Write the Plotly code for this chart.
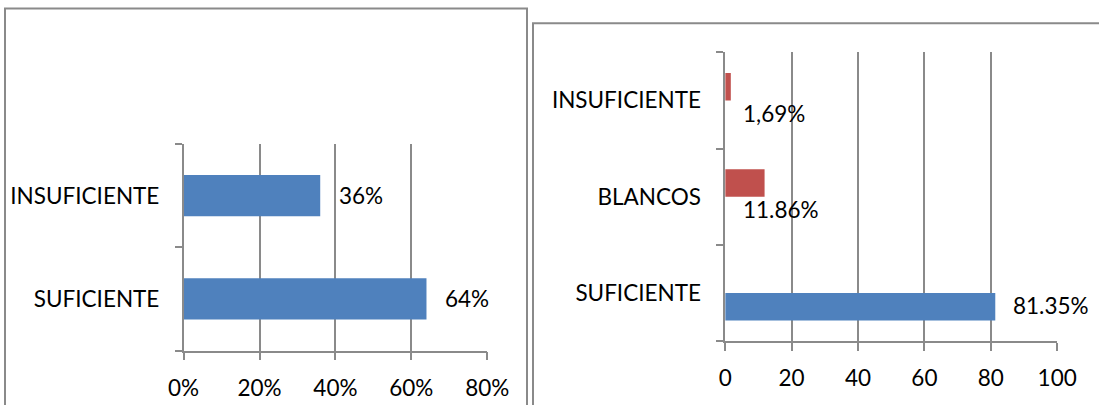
import plotly.graph_objects as go

# Left chart: two categories, percentages
cat_izq = ["SUFICIENTE", "INSUFICIENTE"]
val_izq = [64, 36]
ticks_izq = [0, 20, 40, 60, 80]

# Right chart: three categories, two series (blue / red)
cat_der = ["SUFICIENTE", "BLANCOS", "INSUFICIENTE"]
serie_azul = [81.35, 0, 0]
serie_roja = [0, 11.86, 1.69]
sep_decimal = [".", ".", ","]
ticks_der = [0, 20, 40, 60, 80, 100]

AZUL = "#4F81BD"
ROJO = "#C0504D"
GRIS = "#8a8a8a"
FUENTE = dict(family="Lato", size=22.5, color="black")

W, H = 1099, 405


def px_x(p):
    return p / W


def px_y(p):
    return 1 - p / H


fig = go.Figure()

fig.add_trace(go.Bar(
    orientation="h", y=cat_izq, x=val_izq, width=0.4,
    marker=dict(color=AZUL, line=dict(width=0)),
    xaxis="x", yaxis="y", hoverinfo="skip",
))

BW = 0.2857
fig.add_trace(go.Bar(
    orientation="h", y=cat_der, x=serie_azul, width=BW, offset=-BW,
    marker=dict(color=AZUL, line=dict(width=0)),
    xaxis="x2", yaxis="y2", hoverinfo="skip",
))
fig.add_trace(go.Bar(
    orientation="h", y=cat_der, x=serie_roja, width=BW, offset=0,
    marker=dict(color=ROJO, line=dict(width=0)),
    xaxis="x2", yaxis="y2", hoverinfo="skip",
))

anotaciones = []
for c, v in zip(cat_izq, val_izq):
    anotaciones.append(dict(
        x=v, y=c, xref="x", yref="y", text=f"{v:d}%", showarrow=False,
        xanchor="left", yanchor="middle", xshift=17, font=FUENTE,
    ))
for i, (c, a, r, s) in enumerate(zip(cat_der, serie_azul, serie_roja, sep_decimal)):
    valor = a if a else r
    texto = f"{valor:.2f}".replace(".", s) + "%"
    anotaciones.append(dict(
        x=a, y=i - BW / 2, xref="x2", yref="y2", text=texto, showarrow=False,
        xanchor="left", yanchor="middle", xshift=16, yshift=1, font=FUENTE,
    ))

eje_x = dict(
    showgrid=True, gridcolor=GRIS, gridwidth=1.5,
    showline=True, linecolor=GRIS, linewidth=1.5,
    ticks="outside", ticklen=8, tickcolor=GRIS, tickwidth=1.5,
    zeroline=False, tickfont=FUENTE, fixedrange=True, automargin=False,
)
eje_y = dict(
    type="category", categoryorder="array",
    showgrid=False, showline=True, linecolor=GRIS, linewidth=1.5,
    ticks="outside", ticklen=7, tickcolor=GRIS, tickwidth=1.5,
    tickson="boundaries", zeroline=False, tickfont=FUENTE, fixedrange=True,
    automargin=False, ticklabelstandoff=18,
)

fig.update_layout(
    width=W, height=H, autosize=False,
    margin=dict(l=0, r=0, t=0, b=0, pad=0, autoexpand=False),
    paper_bgcolor="white", plot_bgcolor="white",
    showlegend=False, barmode="overlay",
    font=FUENTE,
    xaxis=dict(eje_x, domain=[px_x(183.6), px_x(487.2)], range=[0, 80],
               tickmode="array", tickvals=ticks_izq,
               ticktext=[f"{t}%" for t in ticks_izq], anchor="y",
               ticklabelstandoff=9),
    yaxis=dict(eje_y, domain=[px_y(350.5), px_y(144)], categoryarray=cat_izq,
               anchor="x"),
    xaxis2=dict(eje_x, domain=[px_x(725.2), px_x(1057.2)], range=[0, 100],
                tickmode="array", tickvals=ticks_der, anchor="y2",
                ticklabelstandoff=8),
    yaxis2=dict(eje_y, domain=[px_y(341), px_y(52.3)], categoryarray=cat_der,
                anchor="x2"),
    annotations=anotaciones,
    shapes=[
        dict(type="rect", xref="paper", yref="paper",
             x0=px_x(5), x1=px_x(527), y0=-0.05, y1=px_y(8.5),
             line=dict(color=GRIS, width=2), layer="below"),
        dict(type="rect", xref="paper", yref="paper",
             x0=px_x(533), x1=1.05, y0=-0.05, y1=px_y(23.3),
             line=dict(color=GRIS, width=2), layer="below"),
    ],
)

fig.write_html("out.html")
